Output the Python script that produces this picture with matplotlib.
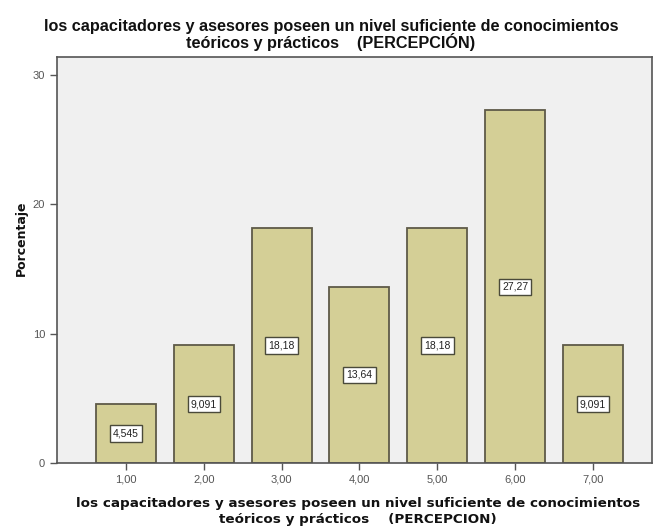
import matplotlib
matplotlib.use("Agg")
import matplotlib.pyplot as plt

categories = [1, 2, 3, 4, 5, 6, 7]
tick_labels = ["1,00", "2,00", "3,00", "4,00", "5,00", "6,00", "7,00"]
percent = [4.545, 9.091, 18.18, 13.64, 18.18, 27.27, 9.091]
value_labels = ["4,545", "9,091", "18,18", "13,64", "18,18", "27,27", "9,091"]

title_lines = ["los capacitadores y asesores poseen un nivel suficiente de conocimientos",
               "teóricos y prácticos    (PERCEPCIÓN)"]
xlabel_lines = ["los capacitadores y asesores poseen un nivel suficiente de conocimientos",
                "teóricos y prácticos    (PERCEPCION)"]

plt.rcParams["font.family"] = ["Liberation Sans", "DejaVu Sans"]

fig = plt.figure(figsize=(6.56, 5.27), dpi=100)
ax = fig.add_axes([57 / 656, 1 - 463 / 527, (652 - 57) / 656, (463 - 57) / 527])
ax.set_facecolor("#F0F0F0")

ax.bar(categories, percent, width=0.77, color="#D4CF96", edgecolor="#5E5A48",
       linewidth=1.3, zorder=2)

for x, v, lab in zip(categories, percent, value_labels):
    ax.text(x, v / 2, lab, ha="center", va="center", fontsize=7.5, color="#222222",
            bbox=dict(boxstyle="square,pad=0.3", facecolor="white",
                      edgecolor="#4A4A3A", linewidth=1.0), zorder=3)

ax.set_xlim(0.113, 7.76)
ax.set_ylim(0, 31.4)
ax.set_xticks(categories)
ax.set_xticklabels(tick_labels)
ax.set_yticks([0, 10, 20, 30])
ax.tick_params(axis="both", labelsize=8, labelcolor="#555555", color="#555555",
               direction="out", length=5, width=1)

for s in ax.spines.values():
    s.set_color("#555555")
    s.set_linewidth(1.2)

# chart title, two centred lines
for y, line in zip([26, 42], title_lines):
    fig.text(331 / 656, 1 - y / 527, line, ha="center", va="center", fontsize=11.7,
             fontweight="bold", color="#111111")

# axis title below the category ticks
for y, line in zip([503, 519], xlabel_lines):
    fig.text(358 / 656, 1 - y / 527, line, ha="center", va="center", fontsize=9.7,
             fontweight="bold", color="#111111", family="DejaVu Sans")

fig.text(21 / 656, 1 - 238 / 527, "Porcentaje", ha="center", va="center",
         rotation=90, fontsize=9, fontweight="bold", color="#111111",
         family="DejaVu Sans")

fig.savefig("out.png", dpi=100)
